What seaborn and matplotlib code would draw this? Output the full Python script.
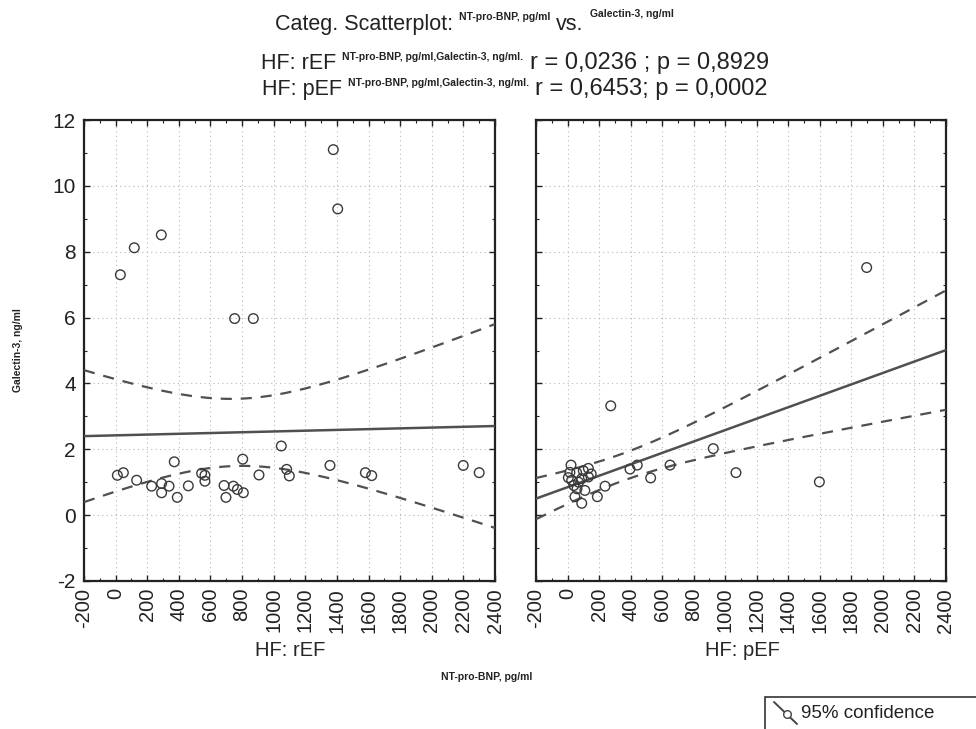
import numpy as np
import matplotlib
matplotlib.use("Agg")
import matplotlib.pyplot as plt
import seaborn as sns
from matplotlib.lines import Line2D
from matplotlib.patches import Rectangle
from matplotlib.ticker import MultipleLocator

# NT-pro-BNP (pg/ml) and Galectin-3 (ng/ml), heart failure with reduced EF
ref_bnp = [30, 118, 289, 1377, 1405, 753, 871,
           1048, 371, 804, 1356, 2199, 2300, 11, 49, 133, 228, 291, 291,
           338, 390, 460, 544, 565, 565, 686, 698, 745, 770, 808, 907,
           1082, 1099, 1580, 1620]
ref_gal = [7.30, 8.12, 8.51, 11.10, 9.30, 5.97, 5.97,
           2.10, 1.62, 1.70, 1.51, 1.51, 1.29, 1.21, 1.29, 1.06, 0.88, 0.96, 0.68,
           0.88, 0.54, 0.89, 1.27, 1.21, 1.03, 0.90, 0.54, 0.88, 0.78, 0.68, 1.22,
           1.39, 1.19, 1.29, 1.20]

# heart failure with preserved EF
pef_bnp = [274, 22, 5, 58, 132, 132, 90, 26, 47, 90, 189, 238, 396, 442,
           527, 650, 924, 1068, 1597, 1897, 15, 40, 70, 110, 150, 100, 60]
pef_gal = [3.32, 1.52, 1.14, 1.29, 1.42, 1.16, 1.11, 1.06, 0.56, 0.36, 0.56,
           0.88, 1.40, 1.52, 1.13, 1.52, 2.02, 1.29, 1.01, 7.52, 1.30, 0.90,
           1.00, 0.75, 1.25, 1.35, 0.80]

group_labels = ["HF: rEF", "HF: pEF"]
stat_r = ["0,0236", "0,6453"]
stat_p = ["0,8929", "0,0002"]
stat_sep = [" ; ", "; "]
x_ticks = list(range(-200, 2401, 200))
y_ticks = list(range(-2, 13, 2))
x_name = "NT-pro-BNP, pg/ml"
y_name = "Galectin-3, ng/ml"

sns.set_theme(style="ticks")
plt.rcParams["font.family"] = ["Liberation Sans", "DejaVu Sans"]
plt.rcParams["axes.unicode_minus"] = False

W, H = 976, 729
fig = plt.figure(figsize=(W / 100, H / 100), dpi=100)


def fx(px):
    return px / W


def fy(py):
    return 1 - py / H


def fit_with_band(x, y, grid):
    x = np.asarray(x, float)
    y = np.asarray(y, float)
    n = len(x)
    slope, icpt = np.polyfit(x, y, 1)
    resid = y - (icpt + slope * x)
    s = np.sqrt(np.sum(resid ** 2) / (n - 2))
    sxx = np.sum((x - x.mean()) ** 2)
    z = 1.959964
    df = n - 2
    t = z + (z ** 3 + z) / (4 * df)
    se = s * np.sqrt(1 / n + (grid - x.mean()) ** 2 / sxx)
    fit = icpt + slope * grid
    return fit, fit - t * se, fit + t * se


line_col = "#505050"
panels = [(ref_bnp, ref_gal, 84, 495), (pef_bnp, pef_gal, 536, 946)]
axes = []
for i, (xs, ys, x0, x1) in enumerate(panels):
    ax = fig.add_axes([fx(x0), fy(581), fx(x1) - fx(x0), fy(120) - fy(581)])
    axes.append(ax)
    ax.set_xlim(x_ticks[0], x_ticks[-1])
    ax.set_ylim(y_ticks[0], y_ticks[-1])
    grid = np.linspace(x_ticks[0], x_ticks[-1], 300)
    fit, lo, hi = fit_with_band(xs, ys, grid)
    ax.plot(grid, fit, color=line_col, lw=1.8, zorder=3)
    ax.plot(grid, lo, color=line_col, lw=1.6, ls=(0, (5, 4)), zorder=3)
    ax.plot(grid, hi, color=line_col, lw=1.6, ls=(0, (5, 4)), zorder=3)
    sns.scatterplot(x=xs, y=ys, ax=ax, marker="o", s=48, facecolor="none",
                    edgecolor="#3a3a3a", linewidth=1.0, zorder=4)
    ax.set_xticks(x_ticks)
    ax.set_yticks(y_ticks)
    ax.xaxis.set_minor_locator(MultipleLocator(100))
    ax.yaxis.set_minor_locator(MultipleLocator(1))
    ax.grid(True, which="major", color="#b8b8b8", lw=0.8, ls=(0, (1, 3)))
    ax.tick_params(which="both", direction="in", top=True, right=True,
                   bottom=True, left=True, colors="#222222")
    ax.tick_params(which="major", length=4, width=1.0, pad=6)
    ax.tick_params(axis="x", which="major", pad=5)
    ax.tick_params(which="minor", length=2.5, width=0.8)
    ax.set_xticklabels([str(v) for v in x_ticks], rotation=90, fontsize=14.5)
    if i == 0:
        ax.set_yticklabels([str(v) for v in y_ticks], fontsize=15)
    else:
        ax.tick_params(axis="y", labelleft=False)
    for sp in ax.spines.values():
        sp.set_visible(True)
        sp.set_color("#222222")
        sp.set_linewidth(1.6)
    ax.set_xlabel("")
    ax.set_ylabel("")

# group captions under each panel
fig.text(fx(290), fy(651), group_labels[0], ha="center", va="center", fontsize=14.5)
fig.text(fx(742), fy(651), group_labels[1], ha="center", va="center", fontsize=14.5)

small = dict(fontsize=7.5, fontweight="bold", color="#222222")
fig.text(fx(487), fy(677), x_name, ha="center", va="center", **small)
fig.text(fx(18), fy(350), y_name, ha="center", va="center", rotation=90, **small)

big = dict(fontsize=15.5, color="#222222")
stat = dict(fontsize=17, color="#222222")
renderer = fig.canvas.get_renderer()


def place_row(pieces, base_px, center_px, gap=6):
    items = []
    for s, kw, dy in pieces:
        t = fig.text(0, 0, s, ha="left", va="baseline", **kw)
        items.append((t, dy))
    widths = [t.get_window_extent(renderer).width for t, _ in items]
    total = sum(widths) + gap * (len(widths) - 1)
    x = center_px - total / 2
    for (t, dy), w in zip(items, widths):
        t.set_position((fx(x), fy(base_px - dy)))
        x += w + gap


place_row([("Categ. Scatterplot:", big, 0),
           (x_name, small, 10),
           ("vs.", big, 0),
           (y_name, small, 13)], 30, 474)
for k, base in enumerate([69, 95]):
    place_row([(group_labels[k], big, 0),
               (f"{x_name},{y_name}.", small, 9),
               (f"r = {stat_r[k]}{stat_sep[k]}p = {stat_p[k]}", stat, 0)], base, 515)

# legend box at the lower right corner
fig.patches.append(Rectangle((fx(765), fy(740)), fx(990) - fx(765), fy(697) - fy(740),
                             transform=fig.transFigure, fill=False,
                             edgecolor="#333333", lw=1.2))
fig.lines.append(Line2D([fx(774), fx(797)], [fy(702), fy(724)],
                        transform=fig.transFigure, color="#444444", lw=1.4))
fig.lines.append(Line2D([fx(787)], [fy(714)], transform=fig.transFigure,
                        marker="o", ms=5.5, mfc="white", mec="#444444", mew=1.0))
fig.text(fx(801), fy(714), "95% confidence", ha="left", va="center",
         fontsize=13.5, color="#222222")

fig.savefig("out.png", dpi=100)
